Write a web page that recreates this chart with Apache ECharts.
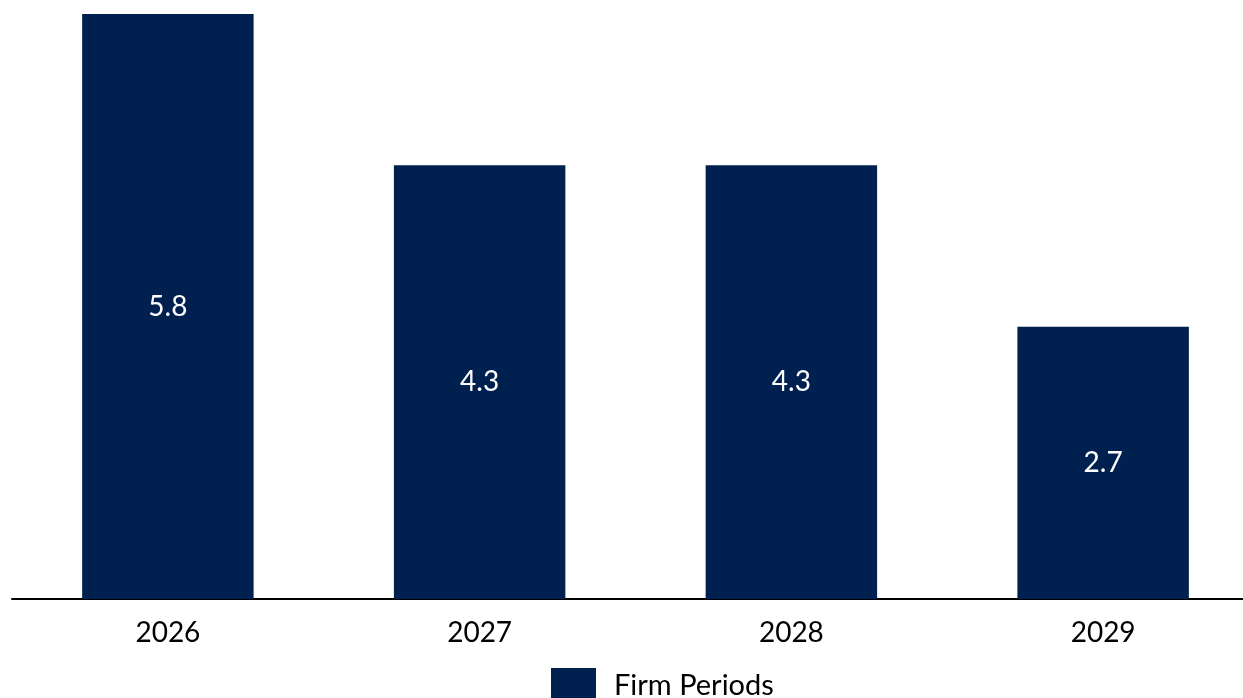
<!DOCTYPE html>
<html>
<head>
<meta charset="utf-8">
<script src="https://cdn.jsdelivr.net/npm/echarts@6/dist/echarts.min.js"></script>
<style>
  html, body { margin: 0; padding: 0; background: #ffffff; }
  #chart { width: 1243px; height: 698px; }
</style>
</head>
<body>
<div id="chart"></div>
<script>
// Years on the category axis
const years = ['2026', '2027', '2028', '2029'];
// Firm period values per year
const firmPeriods = [5.8, 4.3, 4.3, 2.7];
const seriesName = 'Firm Periods';

const barColor = '#00214F';
const fontFamily = 'Lato, "Open Sans", sans-serif';

const chart = echarts.init(document.getElementById('chart'), null, { renderer: 'canvas' });
chart.setOption({
  animation: false,
  backgroundColor: '#ffffff',
  grid: { left: 12, width: 1247, top: 14, bottom: 99, containLabel: false, outerBoundsMode: 'none' },
  xAxis: {
    type: 'category',
    data: years,
    axisLine: { show: true, lineStyle: { color: '#000000', width: 2 } },
    axisTick: { show: false },
    axisLabel: { color: '#000000', fontSize: 28, fontFamily: fontFamily, margin: 20 }
  },
  yAxis: {
    type: 'value',
    min: 0,
    max: 5.8,
    show: false,
    splitLine: { show: false }
  },
  legend: {
    data: [seriesName],
    left: 546,
    top: 663,
    itemWidth: 45,
    itemHeight: 36,
    itemGap: 10,
    icon: 'rect',
    textStyle: { color: '#000000', fontSize: 29, fontFamily: fontFamily, padding: [0, 0, 0, 13] }
  },
  series: [{
    name: seriesName,
    type: 'bar',
    data: firmPeriods,
    barWidth: '55%',
    itemStyle: { color: barColor },
    label: {
      show: true,
      position: 'inside',
      color: '#ffffff',
      fontSize: 28,
      fontFamily: fontFamily,
      formatter: p => p.value.toFixed(1)
    }
  }]
});
</script>
</body>
</html>
